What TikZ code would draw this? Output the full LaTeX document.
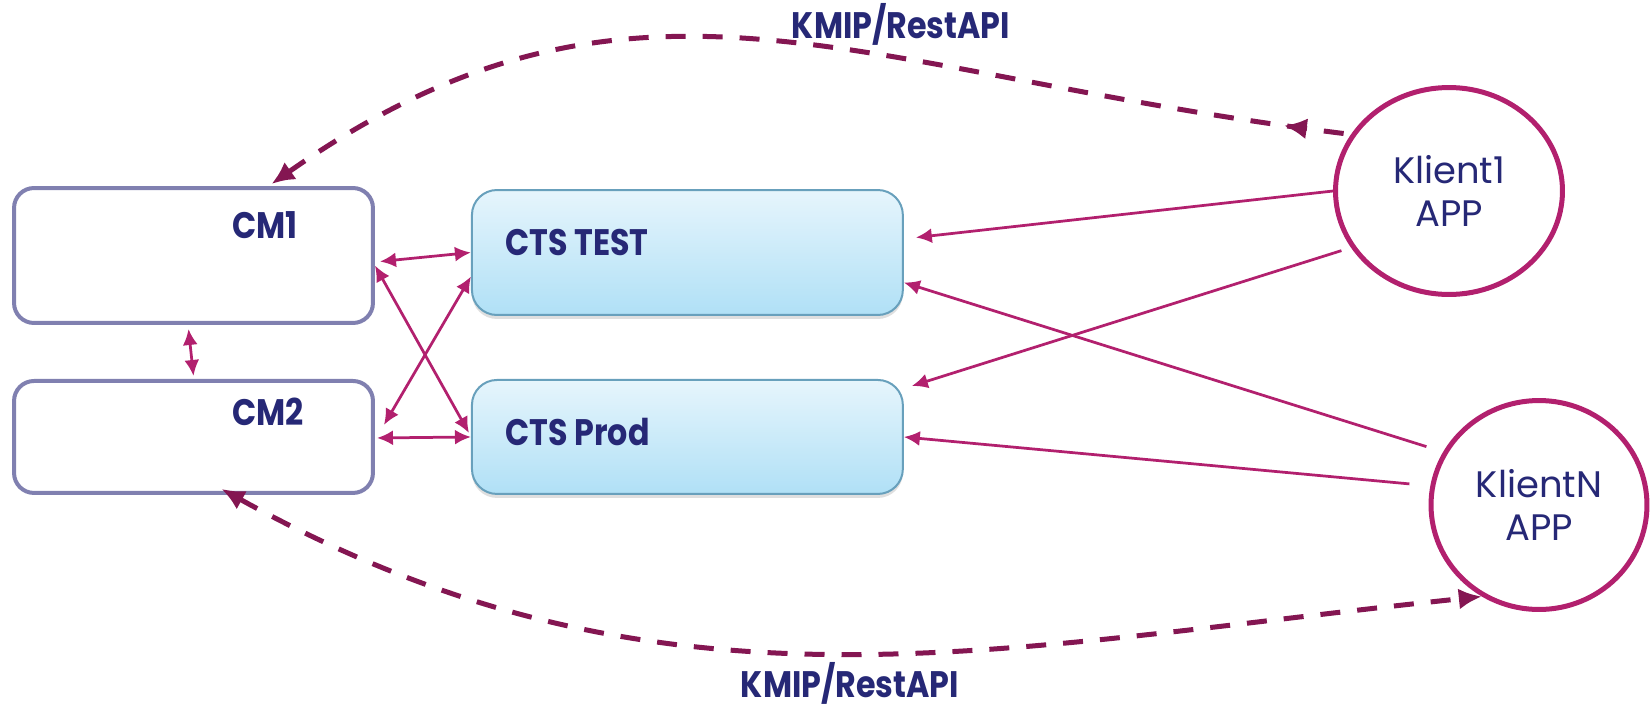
\documentclass[tikz,border=0pt]{standalone}
\usepackage{fontspec}
\setmainfont{Poppins}
\newfontfamily\labelfont{Poppins}[BoldFeatures={FakeStretch=0.86}]
\usetikzlibrary{shapes,arrows,arrows.meta,positioning,calc,shadows,decorations.markings}
\definecolor{navy}{RGB}{38,40,118}
\definecolor{magent}{RGB}{178,32,110}
\definecolor{plum}{RGB}{132,22,82}
\definecolor{cmline}{RGB}{128,128,176}
\definecolor{ctsline}{RGB}{104,160,188}
\definecolor{ctstop}{RGB}{230,245,252}
\definecolor{ctsbot}{RGB}{176,224,246}
\tikzset{
cmbox/.style = {draw=cmline, line width=0.08cm, fill=white, rectangle, rounded corners=0.4cm, minimum width=7.18cm},
ctsbox/.style = {draw=ctsline, line width=0.04cm, rectangle, rounded corners=0.5cm, top color=ctstop, bottom color=ctsbot, minimum width=8.62cm, drop shadow={opacity=0.25, shadow xshift=0cm, shadow yshift=-0.08cm}},
klient/.style = {draw=magent, line width=0.1cm, ellipse, fill=white, text=navy, align=center, font=\fontsize{21}{24.5}\selectfont},
boxlabel/.style = {text=navy, font=\fontsize{21}{24}\selectfont\labelfont\bfseries, inner sep=0pt},
link/.style = {draw=magent, line width=0.055cm, >={Latex[length=0.32cm,width=0.3cm]}},
api/.style = {draw=plum, line width=0.1cm, dash pattern=on 0.4cm off 0.34cm, >={Latex[length=0.46cm,width=0.42cm]}},
backmark/.style = {postaction={decorate, decoration={markings, mark=at position #1 with {\arrow{<}}}}}
}
\begin{document}
\begin{tikzpicture}[x=0.02cm, y=-0.02cm, node distance=3.63cm]
\useasboundingbox (0,0) rectangle (1651,707);
% CM pair on the left
\node[cmbox, minimum height=2.7cm] (cm1) at (193.5,255.5) {};
\node[cmbox, below of=cm1, minimum height=2.24cm] (cm2) {};
% CTS boxes
\node[ctsbox, right of=cm1, node distance=9.88cm, yshift=0.06cm, minimum height=2.5cm] (ctstest) {};
\node[ctsbox, below of=ctstest, node distance=3.69cm, minimum height=2.28cm] (ctsprod) {};
\node[boxlabel, anchor=base west] (cm1txt) at (232,238) {CM1};
\node[boxlabel, anchor=base west] (cm2txt) at (232,425) {CM2};
\node[boxlabel, anchor=base west] (testtxt) at (505,255) {CTS TEST};
\node[boxlabel, anchor=base west] (prodtxt) at (505,445) {CTS Prod};
% clients
\node[klient, minimum width=4.54cm, minimum height=4.14cm] (klient1) at (1449,191) {Klient1\\APP};
\node[klient, minimum width=4.32cm, minimum height=4.18cm] (klientN) at (1539,505) {KlientN\\APP};
\node[boxlabel, anchor=base] (apitop) at (901,38) {KMIP/RestAPI};
\node[boxlabel, anchor=base] (apibot) at (850,697) {KMIP/RestAPI};
% CM <-> CTS
\draw[link,<->] ($(cm1.east)+(5,6)$) -- (ctstest.west);
\draw[link,<->] ($(cm1.east)+(0,10)$) -- ($(ctsprod.west)+(-2,-4)$);
\draw[link,<->] ($(cm2.east)+(9,-12)$) -- ($(ctstest.west)+(0,24)$);
\draw[link,<->] ($(cm2.east)+(2,1)$) -- (ctsprod.west);
\draw[link,<->] ($(cm1.south)+(-5,4)$) -- ($(cm2.north)+(0,-3)$);
% clients -> CTS
\draw[link,->] (klient1.west) -- ($(ctstest.east)+(12,-15)$);
\draw[link,->,shorten <=0.2cm] (klient1.210) -- ($(ctsprod.north east)+(8,7)$);
\draw[link,->,shorten <=0.35cm] (klientN.151) -- ($(ctstest.east)+(0,30)$);
\draw[link,->,shorten <=0.42cm] (klientN.170) -- (ctsprod.east);
% KMIP/RestAPI curves
\draw[api,<-,backmark=0.96] ($(cm1.north)+(78,-2)$) .. controls +(364,-255) and +(-496,-60) .. (klient1.150);
\draw[api,<->] ($(cm2.south)+(28,-6)$) .. controls +(437,242) and +(-497,52) .. (klientN.238);
\end{tikzpicture}
\end{document}
